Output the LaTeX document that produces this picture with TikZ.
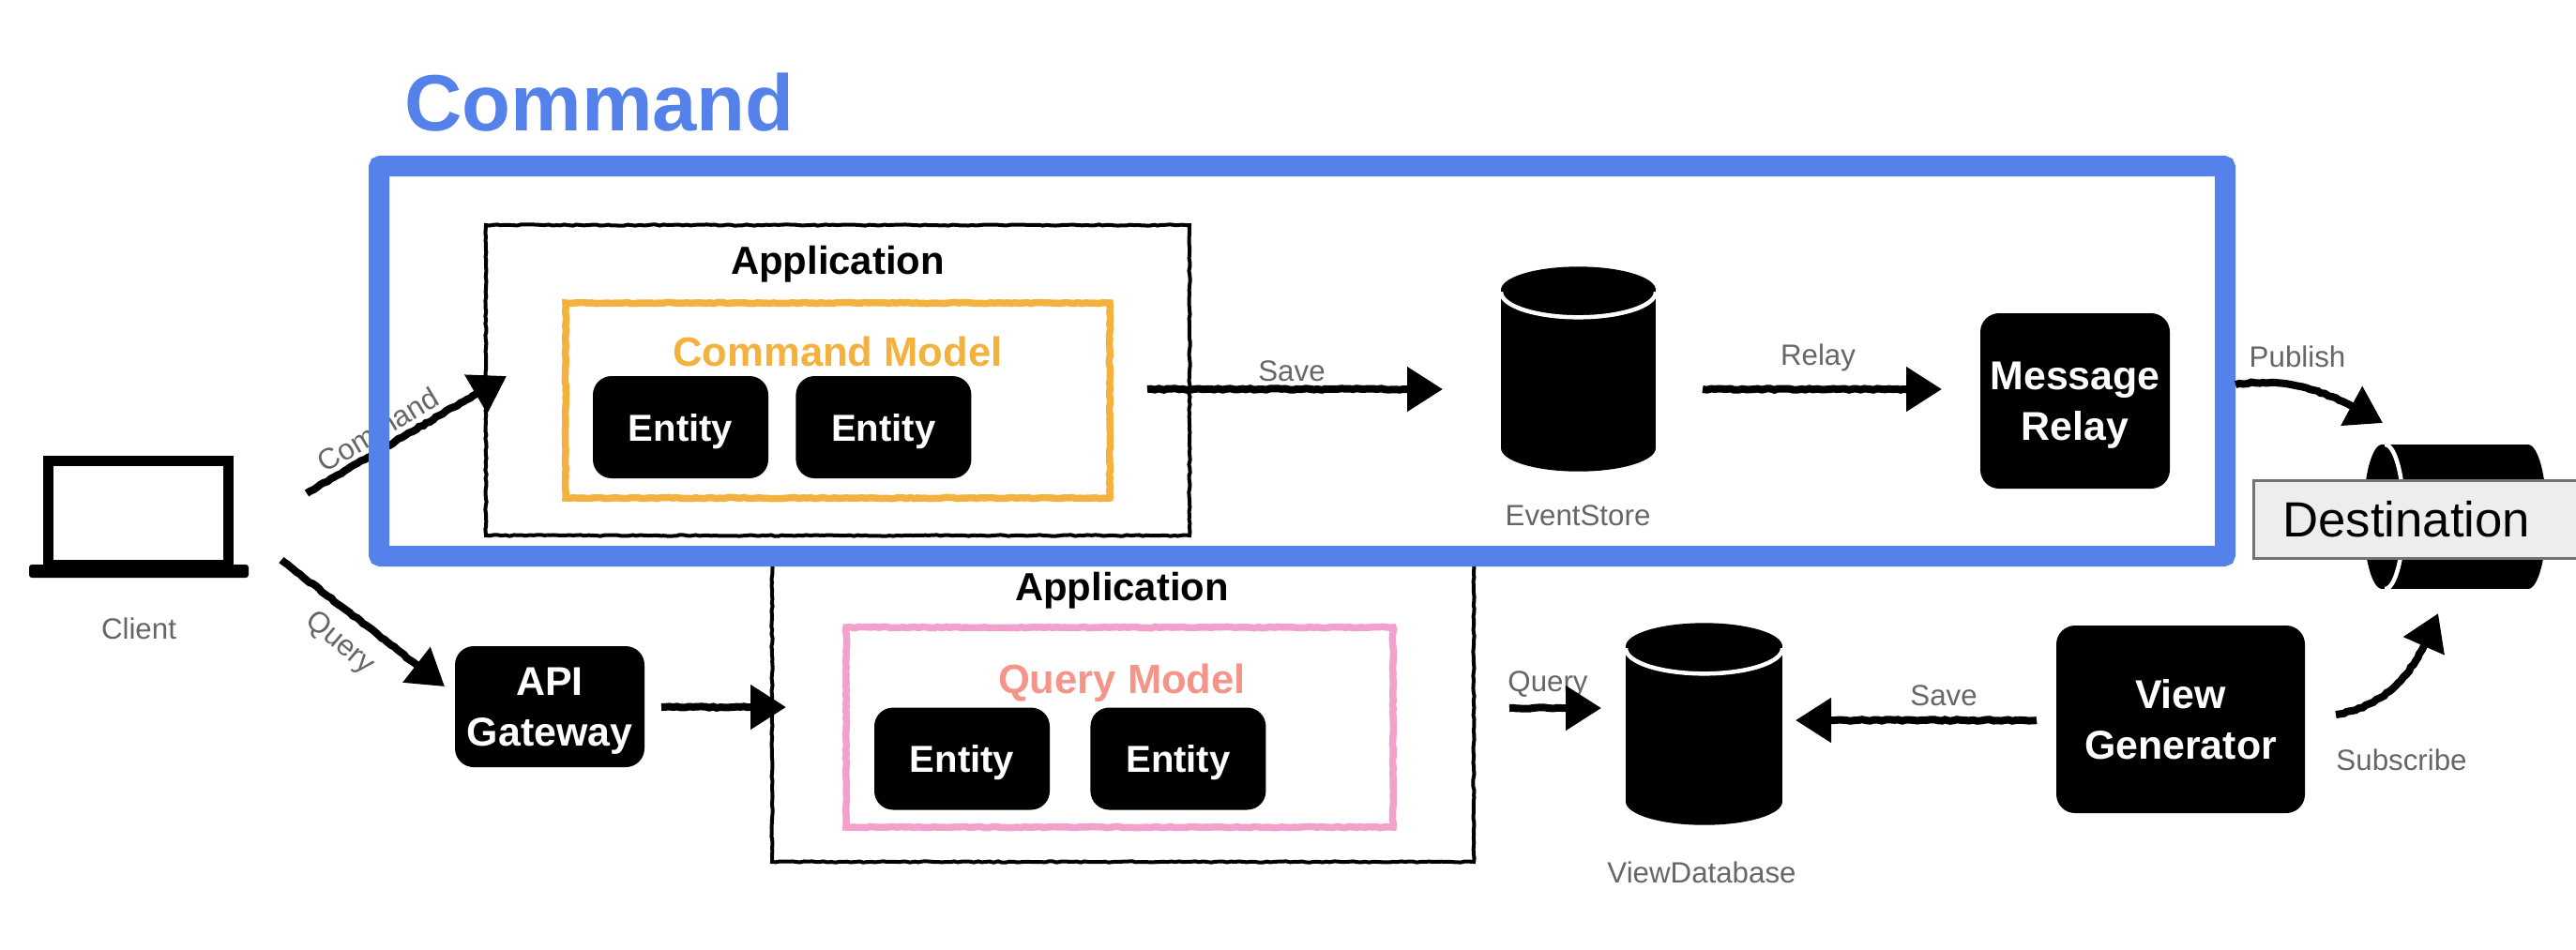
\documentclass[tikz,border=0pt]{standalone}
\usepackage{fontspec}
\setmainfont{Liberation Sans}
\usetikzlibrary{arrows.meta,positioning,calc,decorations.pathmorphing}
\definecolor{mFrame}{HTML}{5581EA}
\definecolor{mOrange}{HTML}{F4B13E}
\definecolor{mPink}{HTML}{F2A0CC}
\definecolor{mSalmon}{HTML}{F4958A}
\definecolor{mLabel}{HTML}{666666}
\pgfmathsetseed{7}
\tikzset{
  rough/.style ={decorate,decoration={random steps,segment length=1.2pt,amplitude=.18pt}},
  sketch/.style={-{Triangle[length=.38cm,width=.46cm]},line width=.08cm,decorate,
                 decoration={random steps,segment length=1.2pt,amplitude=.22pt,post=lineto,post length=.42cm}},
  appbox/.style={rectangle,draw=black,line width=.04cm,rough},
  model/.style ={rectangle,line width=.075cm,rough},
  blackbox/.style={rectangle,rounded corners=.2cm,fill=black,text=white,align=center,inner sep=0pt,text depth=0pt,
                 font=\fontsize{12.2}{15.4}\selectfont\bfseries},
  entity/.style={blackbox,minimum width=1.87cm,minimum height=1.09cm,font=\fontsize{11.4}{14}\selectfont\bfseries},
  dbody/.style ={rectangle,fill=black,inner sep=0pt},
  lidgap/.style={white,line width=.045cm},
  lbl/.style   ={text=mLabel,inner sep=0pt,font=\fontsize{8.9}{11}\selectfont},
  head/.style  ={inner sep=0pt,font=\fontsize{11.9}{14}\selectfont\bfseries},
}
\begin{document}
\begin{tikzpicture}
  \useasboundingbox (0,0) rectangle (27.46,-10.12);

  \node[text=mFrame,inner sep=0pt,font=\fontsize{24.2}{28}\selectfont\bfseries] (title) at (6.39,-1.09) {Command};

  \node[rectangle,draw=black,line width=.11cm,minimum width=1.92cm,minimum height=1.11cm] (screen) at (1.475,-5.465) {};
  \node[rectangle,rounded corners=.03cm,fill=black,minimum width=2.34cm,minimum height=.14cm,inner sep=0pt] (base) at (1.48,-6.09) {};
  \node[lbl] (client) at (1.48,-6.70) {Client};

  \node[lbl,rotate=31] (lblCmd) at (4.03,-4.58) {Command};
  \node[lbl,rotate=-40] (lblQry) at (3.62,-6.86) {Query};
  \coordinate (cmdFrom) at (3.27,-5.26);
  \coordinate (cmdTo) at (5.40,-4.01);
  \coordinate (qryFrom) at (3.00,-5.97);
  \coordinate (qryTo) at (4.74,-7.32);
  \draw[sketch] (cmdFrom) -- (cmdTo);
  \draw[sketch] (qryFrom) -- (qryTo);

  \node[appbox,minimum width=7.48cm,minimum height=3.27cm] (appQ) at (11.97,-7.555) {};
  \node[head] (appQt) at (11.96,-6.30) {Application};
  \node[model,draw=mPink,minimum width=5.83cm,minimum height=2.13cm] (qmodel) at (11.935,-7.755) {};
  \node[head,text=mSalmon,font=\fontsize{12.4}{15}\selectfont\bfseries] (qmodelt) at (11.96,-7.28) {Query Model};
  \node[entity] (qent1) at (10.255,-8.09) {Entity};
  \node[entity,right=.42cm of qent1] (qent2) {Entity};

  \node[blackbox,minimum width=2.02cm,minimum height=1.29cm,text depth=-1.5pt] (gw) at (5.86,-7.535) {API\\Gateway};
  \coordinate (gwFrom) at (7.05,-7.54);
  \coordinate (appQin) at (8.38,-7.54);
  \draw[sketch] (gwFrom) -- (appQin);

  \node[appbox,minimum width=7.50cm,minimum height=3.31cm] (appC) at (8.93,-4.055) {};
  \node[head] (appCt) at (8.93,-2.82) {Application};
  \node[model,draw=mOrange,minimum width=5.80cm,minimum height=2.08cm] (cmodel) at (8.93,-4.27) {};
  \node[head,text=mOrange,font=\fontsize{12.4}{15}\selectfont\bfseries] (cmodelt) at (8.93,-3.75) {Command Model};
  \node[entity] (cent1) at (7.255,-4.555) {Entity};
  \node[entity,right=.28cm of cent1] (cent2) {Entity};

  \node[dbody,minimum width=1.65cm,minimum height=1.67cm] (evs) at (16.825,-3.935) {};
  \fill (evs.south) ellipse[x radius=.825,y radius=.25];
  \fill (evs.north) ellipse[x radius=.825,y radius=.25];
  \draw[lidgap] ($(evs.north)+(-.825,-.02)$) arc[start angle=180,end angle=360,x radius=.825,y radius=.27];
  \node[lbl] (lblEvs) at (16.82,-5.50) {EventStore};
  \node[blackbox,minimum width=2.02cm,minimum height=1.87cm] (relay) at (22.12,-4.275) {Message\\Relay};

  \coordinate (saveFrom) at (12.23,-4.15);
  \coordinate (saveTo) at (15.38,-4.15);
  \coordinate (relayFrom) at (18.15,-4.15);
  \coordinate (relayTo) at (20.70,-4.15);
  \node[lbl] (lblSave) at (13.77,-3.96) {Save};
  \node[lbl] (lblRelay) at (19.38,-3.81) {Relay};
  \draw[sketch] (saveFrom) -- (saveTo);
  \draw[sketch] (relayFrom) -- (relayTo);

  \node[rectangle,draw=mFrame,line width=.22cm,rounded corners=.02cm,minimum width=19.68cm,minimum height=4.16cm] (frame) at (13.88,-3.85) {};

  \node[dbody,minimum width=1.67cm,minimum height=1.64cm] (vdb) at (18.165,-7.72) {};
  \fill (vdb.south) ellipse[x radius=.835,y radius=.25];
  \fill (vdb.north) ellipse[x radius=.835,y radius=.25];
  \draw[lidgap] ($(vdb.north)+(-.835,-.02)$) arc[start angle=180,end angle=360,x radius=.835,y radius=.27];
  \node[lbl] (lblVdb) at (18.14,-9.30) {ViewDatabase};
  \node[blackbox,minimum width=2.65cm,minimum height=2.00cm,text depth=-1pt] (vgen) at (23.245,-7.67) {View\\Generator};

  \coordinate (qdbFrom) at (16.09,-7.55);
  \coordinate (qdbTo) at (17.07,-7.55);
  \coordinate (vsaveFrom) at (21.71,-7.68);
  \coordinate (vsaveTo) at (19.14,-7.68);
  \node[lbl] (lblQdb) at (16.50,-7.30) {Query};
  \node[lbl] (lblVsave) at (20.72,-7.42) {Save};
  \draw[sketch] (qdbFrom) -- (qdbTo);
  \draw[sketch] (vsaveFrom) -- (vsaveTo);

  \node[dbody,minimum width=1.54cm,minimum height=1.54cm] (dest) at (26.17,-5.51) {};
  \fill (dest.east) ellipse[x radius=.2,y radius=.77];
  \fill (dest.west) ellipse[x radius=.2,y radius=.77];
  \draw[lidgap] ($(dest.west)+(.03,.77)$) arc[start angle=90,end angle=-90,x radius=.2,y radius=.77];
  \node[rectangle,anchor=west,fill=black!7,draw=black!55,line width=.03cm,minimum width=3.6cm,minimum height=.83cm,
        text width=3cm,inner xsep=.31cm,inner ysep=0pt,font=\fontsize{15}{18}\selectfont] (dbox) at (24.01,-5.535) {Destination};

  \coordinate (pubFrom) at (23.83,-4.10);
  \coordinate (pubTo) at (25.40,-4.51);
  \coordinate (subFrom) at (24.90,-7.62);
  \coordinate (subTo) at (25.99,-6.54);
  \node[lbl] (lblPub) at (24.49,-3.80) {Publish};
  \node[lbl] (lblSub) at (25.60,-8.10) {Subscribe};
  \draw[sketch] (pubFrom) to[out=8,in=150] (pubTo);
  \draw[sketch] (subFrom) to[out=10,in=250] (subTo);
\end{tikzpicture}
\end{document}
